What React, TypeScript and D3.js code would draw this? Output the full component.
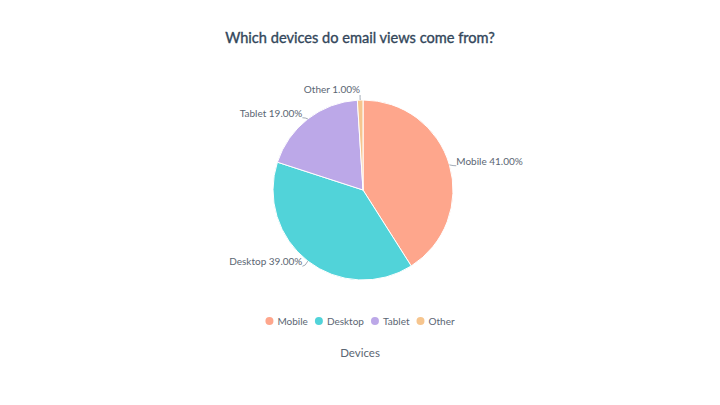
import React, { useEffect, useRef } from "react";
import * as d3 from "d3";

const categories = ["Mobile", "Desktop", "Tablet", "Other"];
const shares = [41, 39, 19, 1];
const colors = ["#fea68c", "#51d3d9", "#bca8e8", "#f6c58e"];

const W = 720;
const H = 405;

const App: React.FC = () => {
  const svgRef = useRef<SVGSVGElement | null>(null);

  useEffect(() => {
    if (!svgRef.current) return;
    const svg = d3.select(svgRef.current);
    svg.selectAll("*").remove();

    const font = "Lato, 'Open Sans', sans-serif";
    const textColor = "#5b6673";
    const cx = 363;
    const cy = 190;
    const radius = 90;

    svg.append("rect").attr("width", W).attr("height", H).attr("fill", "#ffffff");

    // title
    svg
      .append("text")
      .attr("x", W / 2)
      .attr("y", 43)
      .attr("text-anchor", "middle")
      .attr("font-family", font)
      .attr("font-size", 14.6)
      .attr("font-weight", 400)
      .attr("fill", "#33475b")
      .attr("stroke", "#33475b")
      .attr("stroke-width", 0.35)
      .text("Which devices do email views come from?");

    const data = categories.map((c, i) => ({ name: c, value: shares[i], color: colors[i] }));
    const pie = d3
      .pie<{ name: string; value: number; color: string }>()
      .sort(null)
      .value((d) => d.value);
    const arcs = pie(data);
    const arc = d3.arc<d3.PieArcDatum<any>>().innerRadius(0).outerRadius(radius);

    const g = svg.append("g").attr("transform", `translate(${cx},${cy})`);
    g.selectAll("path.slice")
      .data(arcs)
      .join("path")
      .attr("class", "slice")
      .attr("d", arc as any)
      .attr("fill", (d) => d.data.color)
      .attr("stroke", "#ffffff")
      .attr("stroke-width", 1);

    // labels with short connectors
    arcs.forEach((a) => {
      const mid = (a.startAngle + a.endAngle) / 2;
      const sx = Math.sin(mid);
      const sy = -Math.cos(mid);
      const p0 = [radius * sx, radius * sy];
      const p1 = [(radius + 4) * sx, (radius + 4) * sy + 2];
      const right = sx > 0.1;
      const center = Math.abs(sx) <= 0.1;
      const p2 = [p1[0] + (right ? 3 : center ? 0 : -3), p1[1] + (center ? -3 : 0)];
      g.append("path")
        .attr("d", `M${p0[0]},${p0[1]}Q${p1[0]},${p1[1]} ${p2[0]},${p2[1]}`)
        .attr("fill", "none")
        .attr("stroke", "#8a96a3")
        .attr("stroke-width", 0.8);
      g.append("text")
        .attr("x", p2[0])
        .attr("y", p2[1] + (center ? -2 : -1))
        .attr("text-anchor", right ? "start" : "end")
        .attr("font-family", font)
        .attr("font-size", 10)
        .attr("fill", textColor)
        .text(`${a.data.name} ${a.data.value.toFixed(2)}%`);
    });

    // legend
    const legend = svg.append("g").attr("font-family", font).attr("font-size", 10);
    const items = legend
      .selectAll("g.item")
      .data(data)
      .join("g")
      .attr("class", "item");
    items
      .append("circle")
      .attr("r", 4)
      .attr("cx", 4)
      .attr("cy", 0)
      .attr("fill", (d) => d.color);
    items
      .append("text")
      .attr("x", 12)
      .attr("dy", "0.35em")
      .attr("fill", textColor)
      .text((d) => d.name);
    let x = 0;
    const gap = 7;
    items.each(function () {
      const node = this as SVGGElement;
      const w = (node.querySelector("text") as SVGTextElement).getComputedTextLength() + 12;
      d3.select(node).attr("transform", `translate(${x},0)`);
      x += w + gap;
    });
    const total = x - gap;
    legend.attr("transform", `translate(${W / 2 - total / 2},321)`);

    // axis caption
    svg
      .append("text")
      .attr("x", W / 2)
      .attr("y", 357)
      .attr("text-anchor", "middle")
      .attr("font-family", font)
      .attr("font-size", 11.5)
      .attr("fill", textColor)
      .text("Devices");
  }, []);

  return (
    <div style={{ margin: -8 }}>
      <svg ref={svgRef} width={W} height={H} style={{ display: "block" }} />
    </div>
  );
};

export default App;
